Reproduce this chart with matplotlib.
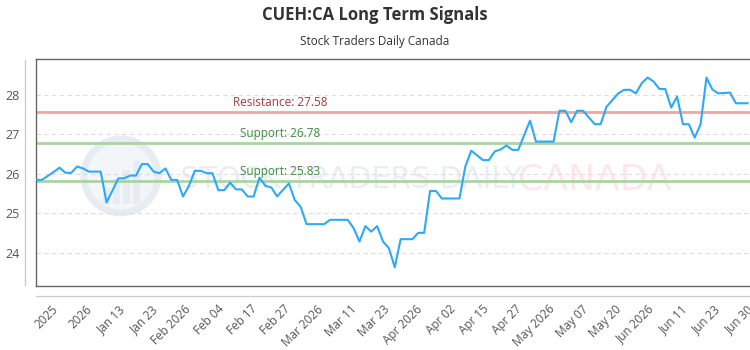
import numpy as np
import matplotlib
matplotlib.use("Agg")
import matplotlib.pyplot as plt
from matplotlib.patches import Ellipse, Rectangle
from matplotlib.lines import Line2D

plt.rcParams['font.family'] = ['Open Sans', 'DejaVu Sans']

# closing prices, one per session
prices = [25.85, 25.85, 25.95, 26.05, 26.16, 26.03, 26.03, 26.19, 26.14, 26.06,
          26.06, 26.06, 25.28, 25.58, 25.89, 25.89, 25.96, 25.96, 26.25, 26.25,
          26.06, 26.02, 26.14, 25.85, 25.85, 25.43, 25.70, 26.08, 26.08, 26.02,
          26.02, 25.59, 25.59, 25.78, 25.61, 25.61, 25.43, 25.43, 25.91, 25.70,
          25.66, 25.43, 25.60, 25.76, 25.34, 25.17, 24.73, 24.73, 24.73, 24.73,
          24.84, 24.84, 24.84, 24.84, 24.63, 24.29, 24.68, 24.54, 24.68, 24.29,
          24.12, 23.64, 24.35, 24.35, 24.35, 24.51, 24.51, 25.57, 25.57, 25.38,
          25.38, 25.38, 25.38, 26.19, 26.59, 26.47, 26.35, 26.35, 26.57, 26.62,
          26.72, 26.61, 26.61, 26.98, 27.35, 26.82, 26.82, 26.82, 26.82, 27.60,
          27.60, 27.31, 27.60, 27.60, 27.43, 27.26, 27.26, 27.70, 27.87, 28.04,
          28.13, 28.13, 28.04, 28.30, 28.44, 28.34, 28.15, 28.15, 27.68, 27.96,
          27.26, 27.26, 26.92, 27.26, 28.44, 28.14, 28.04, 28.05, 28.06, 27.79,
          27.79, 27.79]

tick_labels = ["2025", "2026", "Jan 13", "Jan 23", "Feb 2026", "Feb 04", "Feb 17",
               "Feb 27", "Mar 2026", "Mar 11", "Mar 23", "Apr 2026", "Apr 02",
               "Apr 15", "Apr 27", "May 2026", "May 07", "May 20", "Jun 2026",
               "Jun 11", "Jun 23", "Jun 30"]

resistance = 27.58
supports = [26.78, 25.83]

fig = plt.figure(figsize=(7.5, 3.5), dpi=100)
ax = fig.add_axes([36 / 750, 1 - 286 / 350, 714 / 750, 227 / 350])

x = np.arange(len(prices))

# watermark (logo + text)
ax.add_patch(Ellipse((0.119, 0.485), 74 / 714, 74 / 227, transform=ax.transAxes,
                     facecolor="#f3f6f9", edgecolor="#e6ecf1", lw=5, zorder=0))
for i, h in enumerate([0.07, 0.11, 0.15, 0.19]):
    ax.add_patch(Rectangle((0.094 + i * 0.014, 0.36), 0.009, h, transform=ax.transAxes,
                           facecolor="#e6ecf1", edgecolor="none", zorder=0))
ax.text(144 / 714, 0.47, "STOCK TRADERS DAILY", transform=ax.transAxes, fontsize=21.5,
        color="#e8eef3", ha="left", va="center", family="DejaVu Sans", zorder=0)
ax.text(482 / 714, 0.47, "CANADA", transform=ax.transAxes, fontsize=26,
        color="#fce8e8", ha="left", va="center", family="DejaVu Sans", zorder=0)

ax.axhline(resistance, color="#f0a5a5", lw=2, zorder=2)
for s in supports:
    ax.axhline(s, color="#a8d5a0", lw=2, zorder=2)

ax.plot(x, prices, color="#2ea8f7", lw=1.5, zorder=3)

label_x = 41.5
ax.text(label_x, resistance + 0.07, f"Resistance: {resistance}", color="#a33a3a",
        fontsize=8.5, ha="center", va="bottom")
for s in supports:
    ax.text(label_x, s + 0.07, f"Support: {s}", color="#3d8a3d",
            fontsize=8.5, ha="center", va="bottom")

ax.set_xlim(0, 121.4)
ax.set_ylim(23.165, 28.91)
ax.set_yticks([24, 25, 26, 27, 28])
ax.yaxis.grid(True, color="#dddddd", ls=(0, (4, 3)), lw=0.8)
ax.set_axisbelow(True)

ax.set_xticks(np.linspace(2.7, 2.7 + 5.63 * 21, 22))
ax.set_xticklabels(tick_labels, rotation=45, ha="right", rotation_mode="anchor")
ax.tick_params(axis="x", length=0, pad=12, labelsize=8.5, labelcolor="#555555")
ax.tick_params(axis="y", length=0, pad=12, labelsize=9, labelcolor="#555555")

for sp in ax.spines.values():
    sp.set_color("#666666")
    sp.set_linewidth(1)
ax.spines["right"].set_visible(False)

# outer axis lines
fig.add_artist(Line2D([25 / 750, 25 / 750], [1 - 60 / 350, 1 - 285 / 350],
                      color="#cccccc", lw=1))
fig.add_artist(Line2D([36 / 750, 1], [1 - 296 / 350, 1 - 296 / 350],
                      color="#cccccc", lw=1))

fig.text(0.5, 1 - 15 / 350, "CUEH:CA Long Term Signals", ha="center", va="center",
         fontsize=12, fontweight="bold", color="#333333")
fig.text(0.5, 1 - 41 / 350, "Stock Traders Daily Canada", ha="center", va="center",
         fontsize=8.5, color="#333333")

fig.savefig("out.png", dpi=100)
